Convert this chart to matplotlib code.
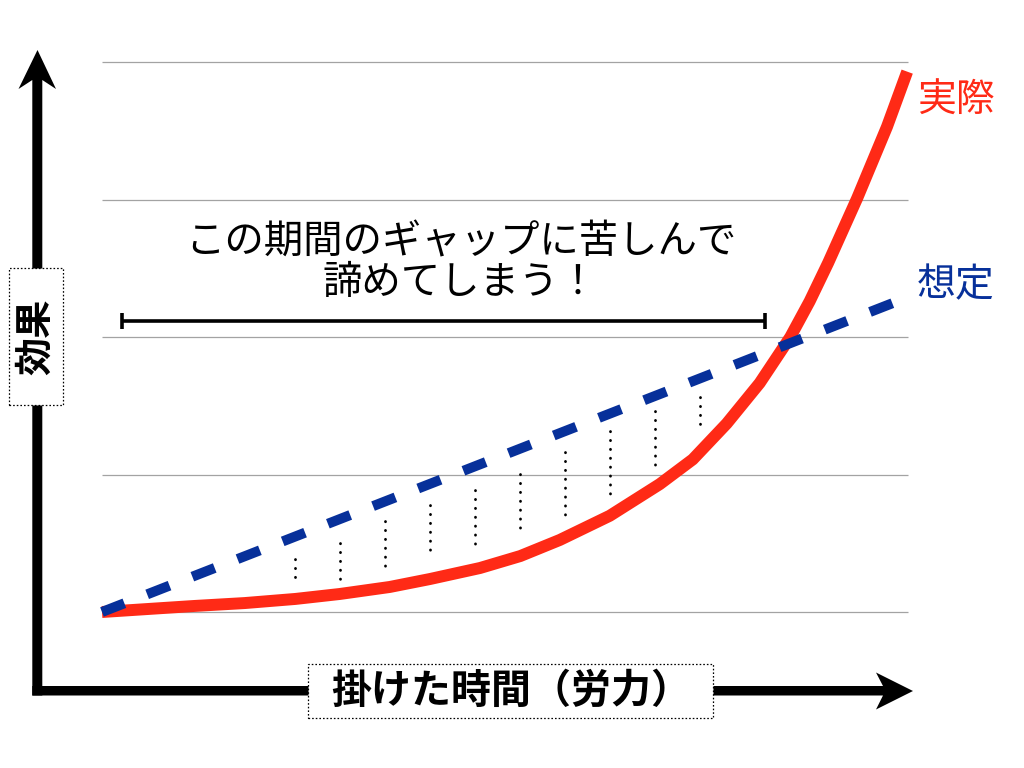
import matplotlib
matplotlib.use('Agg')
import matplotlib.pyplot as plt
from matplotlib.patches import Polygon, Rectangle

plt.rcParams['font.family'] = ['Noto Sans CJK JP', 'DejaVu Sans']

# x: time spent (0-100), y: effect (grid at 0..4)
effect_levels = [0, 1, 2, 3, 4]

actual_x = [0, 11.5, 17.7, 24.0, 29.5, 35.7, 40.7, 46.9, 51.9, 56.8, 63.0,
            69.2, 73.3, 77.5, 81.6, 85.4, 87.8, 90.1, 93.7, 97.4, 99.9]
actual_y = [0, 0.044, 0.065, 0.095, 0.131, 0.182, 0.24, 0.32, 0.407, 0.524,
            0.70, 0.93, 1.11, 1.37, 1.665, 2.0, 2.26, 2.54, 3.01, 3.53, 3.93]

expected_x = [0, 100]
expected_y = [0, 2.29]

# dotted "gap" marks between the two lines
gap_x = [23.9, 29.5, 35.1, 40.7, 46.3, 51.9, 57.4, 63.0, 68.6, 74.2]
gap_top = [0.383, 0.500, 0.664, 0.778, 0.887, 1.001, 1.166, 1.316, 1.462, 1.566]
gap_bottom = [0.249, 0.238, 0.329, 0.446, 0.492, 0.609, 0.701, 0.856, 1.064, 1.365]

struggle_span = [2.5, 82.3]
struggle_level = 2.12

RED = '#ff2a16'
BLUE = '#07309a'

W, H = 1024, 768
X0, Y0 = 102, 612          # pixel position of data origin
SX, SY = 8.06, 137.5       # pixels per data unit

fig = plt.figure(figsize=(W / 100, H / 100), dpi=100)
ax = fig.add_axes([0, 0, 1, 1])
ax.set_xlim(-X0 / SX, (W - X0) / SX)
ax.set_ylim(-(H - Y0) / SY, Y0 / SY)
ax.axis('off')


def px(x, y):
    '''image pixel (top-left origin) -> figure fraction'''
    return (x / W, 1 - y / H)


# horizontal guide lines
ax.hlines(effect_levels, 0, 100, color='#a3a3a3', lw=0.9, zorder=1)

# gap dots
ax.vlines(gap_x, gap_top, gap_bottom, color='black', lw=2.0,
          linestyle=(0, (0.1, 3.1)), capstyle='round', zorder=2)

# actual curve and expected line
ax.plot(actual_x, actual_y, color=RED, lw=8.6, solid_capstyle='butt',
        solid_joinstyle='round', zorder=3)
ax.plot(expected_x, expected_y, color=BLUE, lw=7.2,
        linestyle=(0, (2.4, 2.45)), dash_capstyle='butt', zorder=4)

ax.text(101.1, 3.72, '実際', color=RED, fontsize=28, ha='left', va='center')
ax.text(101.1, 2.38, '想定', color=BLUE, fontsize=28, ha='left', va='center')

# span of the struggle period
ax.plot(struggle_span, [struggle_level] * 2, color='black', lw=2.6,
        solid_capstyle='butt')
ax.plot(struggle_span, [struggle_level] * 2, color='black', lw=0,
        marker='|', markersize=11, markeredgewidth=2.6)
ax.text(44.5, 2.684, 'この期間のギャップに苦しんで', fontsize=28.4,
        ha='center', va='center')
ax.text(44.5, 2.393, '諦めてしまう！', fontsize=28.4, ha='center', va='center')

# axis arrows
y_arrow = [(37.5, 50), (56, 89), (42.3, 80), (42.3, 695.5),
           (32.3, 695.5), (32.3, 80), (18.5, 89)]
x_arrow = [(913, 691), (876, 709.5), (883, 695.5), (32.3, 695.5),
           (32.3, 686), (883, 686), (876, 672.5)]
for pts in (y_arrow, x_arrow):
    fig.add_artist(Polygon([px(*p) for p in pts], closed=True,
                           transform=fig.transFigure, fc='black', ec='none',
                           zorder=3))

# label boxes
for (bx, by, bw, bh) in [(9, 268, 54, 137), (308, 664, 405, 54)]:
    fig.add_artist(Rectangle(px(bx, by + bh), bw / W, bh / H,
                             transform=fig.transFigure, fc='white', ec='black',
                             lw=0.9, ls=(0, (1.3, 1.6)), zorder=4))

fig.text(*px(36, 337), '効果', rotation=90, fontsize=27.5, fontweight='bold',
         ha='center', va='center', zorder=5)
fig.text(*px(511, 691), '掛けた時間（労力）', fontsize=28.8, fontweight='bold',
         ha='center', va='center', zorder=5)

fig.savefig('out.png', dpi=100, facecolor='white')
